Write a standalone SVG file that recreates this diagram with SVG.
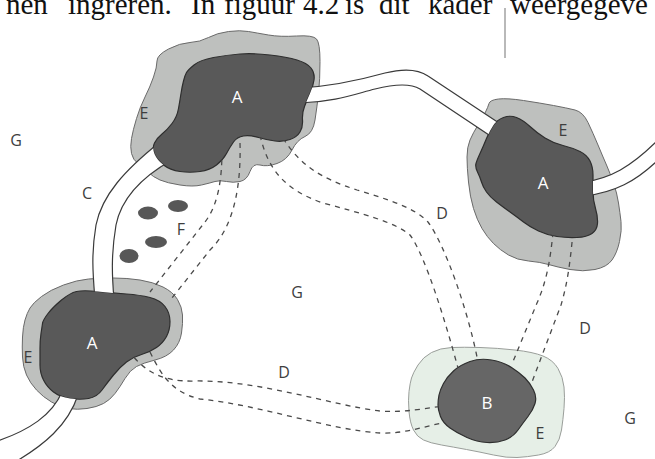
<svg xmlns="http://www.w3.org/2000/svg" xmlns:xlink="http://www.w3.org/1999/xlink" width="655" height="459" viewBox="0 0 655 459">
  <style>
    .halo { fill: #bec0be; stroke: #6a6a6a; stroke-width: 1; }
    .halo-light { fill: #e6efe7; stroke: #9a9e9a; stroke-width: 1; }
    .core { fill: #595959; stroke: #2e2e2e; stroke-width: 1.2; }
    .core-b { fill: #666666; stroke: #2e2e2e; stroke-width: 1.2; }
    .lbl { font-family: "Open Sans", "Liberation Sans", sans-serif; font-size: 16px; fill: #3e3e3e; text-anchor: middle; }
    .lbl-in { font-family: "Open Sans", "Liberation Sans", sans-serif; font-size: 17px; fill: #ffffff; text-anchor: middle; }
    .tube-fill { fill: #ffffff; stroke: none; }
    .tube-edge { fill: none; stroke: #3a3a3a; stroke-width: 1.2; }
    .trail { fill: none; stroke: #4a4a4a; stroke-width: 1.3; stroke-dasharray: 5 5; }
    .caption { font-family: "Liberation Serif", "Times New Roman", serif; font-size: 29px; fill: #111; }
  </style>
  <defs>
    <path id="core-top" d="M186.5,72.5 Q188,70 194,65 Q200,60 213.5,57.5 Q227,55 240,54 Q253,53 270,55 Q287,57 297,60 Q307,63 311,68 Q315,73 314,80 Q313,87 310,93.5 Q307,100 304.5,106.5 Q302,113 302.5,120 Q303,127 300,132 Q297,137 290,139.5 Q283,142 275,141 Q267,140 258.5,137.5 Q250,135 243.5,136 Q237,137 233.5,142 Q230,147 226.5,153.5 Q223,160 216.5,165 Q210,170 200,171.5 Q190,173 180,171.5 Q170,170 163.5,165 Q157,160 154.5,154 Q152,148 154.5,143 Q157,138 162,134 Q167,130 172,123.5 Q177,117 178.5,108.5 Q180,100 181,93.5 Q182,87 183.5,81 Q185,75 186.5,72.5 Z"/>
    <path id="core-right" d="M476,163.5 Q477,160 480,153.5 Q483,147 486.5,138.5 Q490,130 493.5,125 Q497,120 503.5,117.5 Q510,115 516.5,117.5 Q523,120 530,126.5 Q537,133 545,138 Q553,143 563,145.5 Q573,148 580,151.5 Q587,155 590,161 Q593,167 593,175 Q593,183 593,191.5 Q593,200 595.5,208.5 Q598,217 597.5,223.5 Q597,230 592,233.5 Q587,237 577,237.5 Q567,238 557,236.5 Q547,235 538.5,231 Q530,227 523.5,222 Q517,217 510,212 Q503,207 496.5,202 Q490,197 486.5,192 Q483,187 481.5,182 Q480,177 477.5,172 Q475,167 476,163.5 Z"/>
    <path id="core-left" d="M42.5,323.5 Q43,320 48,313.5 Q53,307 61.5,300 Q70,293 76.5,291.5 Q83,290 98,291.5 Q113,293 126.5,294 Q140,295 150,297.5 Q160,300 165,306.5 Q170,313 170,321.5 Q170,330 166.5,336.5 Q163,343 156.5,347.5 Q150,352 141.5,354.5 Q133,357 126.5,362 Q120,367 113.5,375 Q107,383 102,390 Q97,397 88.5,398.5 Q80,400 70,398.5 Q60,397 53.5,392 Q47,387 43.5,380 Q40,373 40,365 Q40,357 40,348.5 Q40,340 41,333.5 Q42,327 42.5,323.5 Z"/>
    <path id="core-b" d="M439,395 Q440,390 443.5,383.5 Q447,377 453.5,371 Q460,365 470,361.5 Q480,358 491.5,360 Q503,362 511.5,367.5 Q520,373 525,378 Q530,383 533.5,390 Q537,397 535,403.5 Q533,410 528,416.5 Q523,423 518,430 Q513,437 505,440 Q497,443 487,442.5 Q477,442 467,437.5 Q457,433 450,428 Q443,423 440.5,416.5 Q438,410 438,405 Q438,400 439,395 Z"/>
    <!-- connectors stop at the dark cores -->
    <mask id="cores-cut" maskUnits="userSpaceOnUse" x="0" y="0" width="655" height="459">
      <rect x="0" y="0" width="655" height="459" fill="#fff"/>
      <use xlink:href="#core-top" fill="#000"/>
      <use xlink:href="#core-right" fill="#000"/>
      <use xlink:href="#core-left" fill="#000"/>
      <use xlink:href="#core-b" fill="#000"/>
    </mask>
  </defs>

  <rect x="0" y="0" width="655" height="459" fill="#ffffff"/>

  <!-- running text line clipped at the top edge -->
  <text class="caption" y="14">
    <tspan x="6">nen</tspan>
    <tspan x="68">ingreren.</tspan>
    <tspan x="191">In</tspan>
    <tspan x="224">figuur</tspan>
    <tspan x="303">4.2</tspan>
    <tspan x="345">is</tspan>
    <tspan x="379">dit</tspan>
    <tspan x="428">kader</tspan>
    <tspan x="510">weergegeve</tspan>
  </text>
  <line x1="505" y1="8" x2="505" y2="58" stroke="#8a8a8a" stroke-width="1.2"/>

  <!-- area A, top -->
  <g id="node-a-top">
    <path class="halo" d="M157,61 Q157,55 168.5,49 Q180,43 190,42.5 Q200,42 208.5,37.5 Q217,33 228.5,31.5 Q240,30 248.5,31.5 Q257,33 268.5,35 Q280,37 296.5,36 Q313,35 316.5,39 Q320,43 320,61.5 Q320,80 318.5,93.5 Q317,107 315,120 Q313,133 305,136.5 Q297,140 292,150 Q287,160 277,163.5 Q267,167 260,165 Q253,163 250,171.5 Q247,180 240,181.5 Q233,183 226.5,181.5 Q220,180 215,181.5 Q210,183 201.5,185 Q193,187 180,185 Q167,183 160,180 Q153,177 148,172 Q143,167 138,163.5 Q133,160 131.5,153.5 Q130,147 131.5,138.5 Q133,130 136.5,118.5 Q140,107 145,97 Q150,87 153.5,77 Q157,67 157,61 Z"/>
    <use xlink:href="#core-top" class="core"/>
    <text class="lbl-in" x="237" y="103">A</text>
    <text class="lbl" x="144" y="119">E</text>
  </g>

  <!-- area A, right -->
  <g id="node-a-right">
    <path class="halo" d="M489,103.5 Q490,100 498.5,99 Q507,98 523.5,100.5 Q540,103 553.5,105.5 Q567,108 575,110 Q583,112 588,122.5 Q593,133 598,145 Q603,157 606.5,165 Q610,173 613.5,183 Q617,193 618.5,203 Q620,213 621,221.5 Q622,230 619.5,241.5 Q617,253 612,260 Q607,267 595,269.5 Q583,272 570,269.5 Q557,267 548.5,264.5 Q540,262 528.5,261 Q517,260 508.5,255 Q500,250 493.5,243.5 Q487,237 482,228.5 Q477,220 473.5,208.5 Q470,197 468.5,182 Q467,167 467,157 Q467,147 470,140 Q473,133 478,125 Q483,117 485.5,112 Q488,107 489,103.5 Z"/>
    <use xlink:href="#core-right" class="core"/>
    <text class="lbl-in" x="543" y="189">A</text>
    <text class="lbl" x="563" y="136">E</text>
  </g>

  <!-- area A, lower left -->
  <g id="node-a-left">
    <path class="halo" d="M30,308 Q33,303 41.5,296.5 Q50,290 63.5,285 Q77,280 88.5,279 Q100,278 113.5,278 Q127,278 140,280 Q153,282 163,287 Q173,292 177.5,299.5 Q182,307 182.5,315 Q183,323 181.5,333 Q180,343 173.5,350 Q167,357 155,360 Q143,363 136.5,366.5 Q130,370 125,378.5 Q120,387 115,393.5 Q110,400 103.5,403.5 Q97,407 87,408.5 Q77,410 68.5,408.5 Q60,407 51.5,402 Q43,397 36.5,390 Q30,383 26.5,375 Q23,367 22.5,357 Q22,347 22.5,337 Q23,327 25,320 Q27,313 30,308 Z"/>
    <use xlink:href="#core-left" class="core"/>
    <text class="lbl-in" x="92" y="349">A</text>
    <text class="lbl" x="28" y="363">E</text>
  </g>

  <!-- area B, lower right -->
  <g id="node-b">
    <path class="halo-light" d="M411.5,378 Q413,373 418,365 Q423,357 431.5,352.5 Q440,348 451.5,347.5 Q463,347 480,347.5 Q497,348 515,350 Q533,352 543,356 Q553,360 558,368.5 Q563,377 564,387 Q565,397 564,408.5 Q563,420 561.5,430 Q560,440 555,446.5 Q550,453 538.5,455 Q527,457 517,457.5 Q507,458 493.5,455 Q480,452 466.5,449.5 Q453,447 441.5,445 Q430,443 423.5,440 Q417,437 413.5,430 Q410,423 409,411.5 Q408,400 409,391.5 Q410,383 411.5,378 Z"/>
    <use xlink:href="#core-b" class="core-b"/>
    <text class="lbl-in" x="487" y="409">B</text>
    <text class="lbl" x="540" y="439">E</text>
  </g>

  <!-- small patches F -->
  <g id="node-f">
    <ellipse cx="148" cy="213" rx="10" ry="6.5" fill="#575757"/>
    <ellipse cx="178" cy="206" rx="10" ry="6" fill="#575757"/>
    <ellipse cx="156" cy="242" rx="11" ry="6" fill="#575757"/>
    <ellipse cx="129" cy="256" rx="9.5" ry="7" fill="#575757"/>
    <text class="lbl" x="181" y="235">F</text>
  </g>

  <!-- free labels -->
  <g id="labels">
    <text class="lbl" x="87" y="199">C</text>
    <text class="lbl" x="16" y="146">G</text>
    <text class="lbl" x="297" y="298">G</text>
    <text class="lbl" x="630" y="424">G</text>
    <text class="lbl" x="442" y="219">D</text>
    <text class="lbl" x="585" y="334">D</text>
    <text class="lbl" x="284" y="378">D</text>
  </g>

  <!-- connectors: solid corridors (tubes) and dashed trails -->
  <g id="connectors" mask="url(#cores-cut)">
    <!-- tube top A to right A -->
    <path class="tube-fill" d="M300,88 C335,86 360,80 385,73 C405,68 418,69 428,76 L502,125 L495,139 L420,89 C410,83 395,84 375,89 C355,94 335,102 300,103 Z"/>
    <path class="tube-edge" d="M300,88 C335,86 360,80 385,73 C405,68 418,69 428,76 L502,125"/>
    <path class="tube-edge" d="M300,103 C335,102 355,94 375,89 C395,84 410,83 420,89 L495,139"/>

    <!-- tube leaving right A -->
    <path class="tube-fill" d="M585,182 C610,178 630,168 658,140 L658,160 C635,182 615,192 585,196 Z"/>
    <path class="tube-edge" d="M585,182 C610,178 630,168 658,140"/>
    <path class="tube-edge" d="M585,196 C615,192 635,182 658,160"/>

    <!-- tube C between top A and lower-left A -->
    <path class="tube-fill" d="M160,142 C125,170 102,195 96,225 C91,255 93,275 95,300 L114,300 C112,275 111,255 116,225 C121,200 140,178 172,160 Z"/>
    <path class="tube-edge" d="M160,142 C125,170 102,195 96,225 C91,255 93,275 95,300"/>
    <path class="tube-edge" d="M172,160 C140,178 121,200 116,225 C111,255 112,275 114,300"/>

    <!-- tube leaving lower-left A -->
    <path class="tube-fill" d="M62,392 C52,415 30,430 -5,442 L-5,470 L10,465 C45,445 68,425 78,395 Z"/>
    <path class="tube-edge" d="M62,392 C52,415 30,430 -5,442"/>
    <path class="tube-edge" d="M78,395 C68,425 45,445 10,465"/>

    <!-- trail D: top A to lower-left A -->
    <path class="trail" d="M222,150 C222,180 218,205 205,222 L150,292"/>
    <path class="trail" d="M240,143 C241,180 236,225 210,250 L172,298"/>

    <!-- trail D: top A to B -->
    <path class="trail" d="M260,135 C268,170 285,190 323,203 C360,213 395,222 410,235 C425,255 445,320 458,368"/>
    <path class="trail" d="M283,138 C300,165 320,178 357,190 C390,200 415,208 428,222 C445,245 468,310 478,362"/>

    <!-- trail D: right A to B -->
    <path class="trail" d="M553,232 C550,265 545,285 537,303 L512,364"/>
    <path class="trail" d="M573,232 C570,265 567,285 561,305 L532,382"/>

    <!-- trail D: lower-left A to B -->
    <path class="trail" d="M128,350 C143,370 160,382 195,381 C260,380 330,405 380,411 C405,413 425,408 445,406"/>
    <path class="trail" d="M150,352 C160,372 170,392 200,399 C260,405 330,430 380,433 C405,434 425,426 447,422"/>
  </g>
</svg>
